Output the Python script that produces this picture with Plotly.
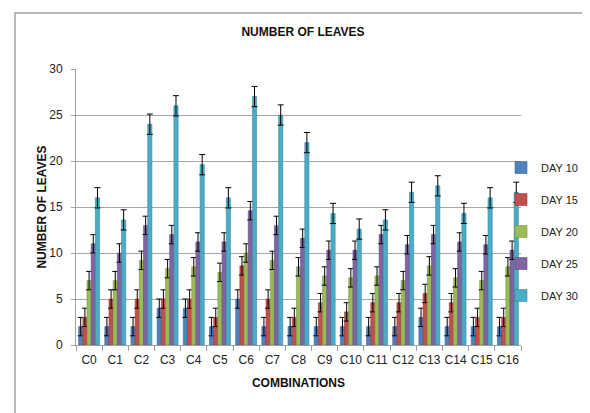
import plotly.graph_objects as go

categories = ["C0", "C1", "C2", "C3", "C4", "C5", "C6", "C7", "C8", "C9",
              "C10", "C11", "C12", "C13", "C14", "C15", "C16"]
series_names = ["DAY 10", "DAY 15", "DAY 20", "DAY 25", "DAY 30"]
day10 = [2, 2, 2, 4, 4, 2, 5, 2, 2, 2, 2, 2, 2, 3, 2, 2, 2]
day15 = [3, 5, 5, 5, 5, 3, 8.6, 5, 3, 4.6, 3.6, 4.6, 4.6, 5.6, 4.6, 3, 3]
day20 = [7, 7, 9.2, 8.3, 8.5, 7.9, 10, 9.2, 8.5, 7.5, 7.3, 7.5, 7, 8.6, 7.3, 7, 8.5]
day25 = [11, 10, 13, 12, 11.2, 11.2, 14.6, 13, 11.6, 10.3, 10.3, 12, 10.9, 12, 11.2, 10.9, 10.3]
day30 = [16, 13.6, 24, 26, 19.6, 16, 27, 25, 22, 14.3, 12.6, 13.6, 16.6, 17.3, 14.3, 16, 16.6]
error_value = [1, 1, 1, 1, 1.1]
colors = ["#4F81BD", "#C0504D", "#9BBB59", "#8064A2", "#4BACC6"]
line_colors = ["#3A6597", "#9A3B38", "#7A9640", "#634C82", "#35889E"]

FONT = "Liberation Sans, Arial, sans-serif"

fig = go.Figure()
for name, vals, c, lc, ev in zip(series_names, [day10, day15, day20, day25, day30],
                                 colors, line_colors, error_value):
    fig.add_trace(go.Bar(
        x=categories, y=vals, name=name, legendgroup=name,
        marker=dict(color=c, line=dict(color=lc, width=0.6)),
        error_y=dict(type="constant", value=ev, color="black", thickness=1, width=3),
    ))

L, R, T, B = 68, 77, 61, 76
W, H = 590, 413
pw, ph = W - L - R, H - T - B

def px_x(p):
    return (p - L) / pw

def px_y(p):
    return (H - B - p) / ph

fig.update_layout(
    width=W, height=H,
    margin=dict(l=L, r=R, t=T, b=B, autoexpand=False),
    paper_bgcolor="white", plot_bgcolor="white",
    font=dict(family=FONT, size=12, color="#222222"),
    barmode="group", bargap=0.2, bargroupgap=0,
    title=dict(text="<b>NUMBER OF LEAVES</b>", x=0.5, xanchor="center",
               y=1 - 24 / H, yanchor="middle", font=dict(size=12, color="#111111")),
    showlegend=True,
    legend=dict(xref="container", x=493 / W, xanchor="left",
                y=px_y(145), yanchor="top",
                font=dict(size=11, color="#222222"), tracegroupgap=13,
                bgcolor="rgba(0,0,0,0)", itemwidth=30),
    shapes=[dict(type="rect", xref="paper", yref="paper",
                 x0=px_x(7), x1=px_x(595), y0=px_y(412), y1=px_y(5),
                 line=dict(color="#A0A0A0", width=1.5), layer="below")],
)
fig.update_xaxes(
    showline=True, linecolor="#A0A0A0", linewidth=1,
    ticks="outside", tickson="boundaries", ticklen=5, tickcolor="#A0A0A0",
    tickfont=dict(size=12), tickangle=0, ticklabelstandoff=4,
    title=dict(text="<b>COMBINATIONS</b>", font=dict(size=12, color="#111111"), standoff=12),
    showgrid=False,
)
fig.update_yaxes(
    range=[0, 30], dtick=5, showline=True, linecolor="#A0A0A0", linewidth=1,
    ticks="outside", ticklen=4, tickcolor="#A0A0A0", ticklabelstandoff=6,
    showgrid=True, gridcolor="#A6A6A6", gridwidth=1,
    tickfont=dict(size=12),
    title=dict(text="<b>NUMBER OF LEAVES</b>", font=dict(size=12, color="#111111"), standoff=0),
    zeroline=False,
)

fig.write_html("out.html")
